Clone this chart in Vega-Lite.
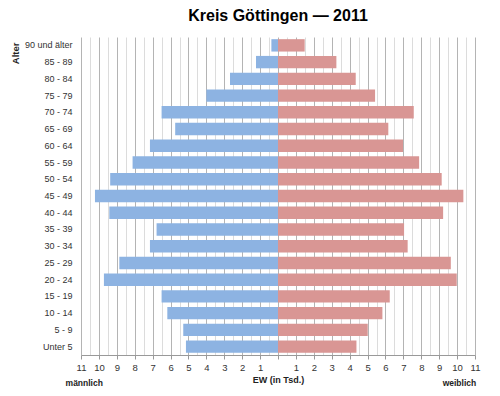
{
  "$schema": "https://vega.github.io/schema/vega-lite/v6.json",
  "width": 394,
  "height": 318,
  "autosize": {"type": "none"},
  "padding": {"left": 81, "top": 37, "right": 25, "bottom": 41},
  "background": "white",
  "title": {"text": "Kreis Göttingen — 2011", "font": "Liberation Sans", "fontSize": 16, "fontWeight": "bold", "color": "#000000", "anchor": "middle", "frame": "group", "offset": 13},
  "config": {
    "view": {"stroke": null},
    "axis": {"labelFont": "Liberation Sans", "titleFont": "Liberation Sans"},
    "text": {"font": "Liberation Sans"}
  },
  "datasets": {
    "pyramide": [
      {"alter": "90 und älter", "geschlecht": "männlich", "ew": -0.37},
      {"alter": "90 und älter", "geschlecht": "weiblich", "ew": 1.49},
      {"alter": "85 - 89", "geschlecht": "männlich", "ew": -1.23},
      {"alter": "85 - 89", "geschlecht": "weiblich", "ew": 3.26},
      {"alter": "80 - 84", "geschlecht": "männlich", "ew": -2.68},
      {"alter": "80 - 84", "geschlecht": "weiblich", "ew": 4.34},
      {"alter": "75 - 79", "geschlecht": "männlich", "ew": -4.0},
      {"alter": "75 - 79", "geschlecht": "weiblich", "ew": 5.42},
      {"alter": "70 - 74", "geschlecht": "männlich", "ew": -6.5},
      {"alter": "70 - 74", "geschlecht": "weiblich", "ew": 7.58},
      {"alter": "65 - 69", "geschlecht": "männlich", "ew": -5.74},
      {"alter": "65 - 69", "geschlecht": "weiblich", "ew": 6.16},
      {"alter": "60 - 64", "geschlecht": "männlich", "ew": -7.15},
      {"alter": "60 - 64", "geschlecht": "weiblich", "ew": 6.98},
      {"alter": "55 - 59", "geschlecht": "männlich", "ew": -8.12},
      {"alter": "55 - 59", "geschlecht": "weiblich", "ew": 7.88},
      {"alter": "50 - 54", "geschlecht": "männlich", "ew": -9.37},
      {"alter": "50 - 54", "geschlecht": "weiblich", "ew": 9.14},
      {"alter": "45 - 49", "geschlecht": "männlich", "ew": -10.22},
      {"alter": "45 - 49", "geschlecht": "weiblich", "ew": 10.35},
      {"alter": "40 - 44", "geschlecht": "männlich", "ew": -9.42},
      {"alter": "40 - 44", "geschlecht": "weiblich", "ew": 9.22},
      {"alter": "35 - 39", "geschlecht": "männlich", "ew": -6.78},
      {"alter": "35 - 39", "geschlecht": "weiblich", "ew": 7.04},
      {"alter": "30 - 34", "geschlecht": "männlich", "ew": -7.15},
      {"alter": "30 - 34", "geschlecht": "weiblich", "ew": 7.24},
      {"alter": "25 - 29", "geschlecht": "männlich", "ew": -8.86},
      {"alter": "25 - 29", "geschlecht": "weiblich", "ew": 9.65},
      {"alter": "20 - 24", "geschlecht": "männlich", "ew": -9.72},
      {"alter": "20 - 24", "geschlecht": "weiblich", "ew": 9.98},
      {"alter": "15 - 19", "geschlecht": "männlich", "ew": -6.5},
      {"alter": "15 - 19", "geschlecht": "weiblich", "ew": 6.24},
      {"alter": "10 - 14", "geschlecht": "männlich", "ew": -6.18},
      {"alter": "10 - 14", "geschlecht": "weiblich", "ew": 5.83},
      {"alter": "5 - 9", "geschlecht": "männlich", "ew": -5.29},
      {"alter": "5 - 9", "geschlecht": "weiblich", "ew": 5.01},
      {"alter": "Unter 5", "geschlecht": "männlich", "ew": -5.14},
      {"alter": "Unter 5", "geschlecht": "weiblich", "ew": 4.38}
    ],
    "seiten": [
      {"label": "männlich", "ew": -10.82},
      {"label": "weiblich", "ew": 10.13}
    ]
  },
  "layer": [
    {
      "data": {"name": "pyramide"},
      "mark": {"type": "bar"},
      "encoding": {
        "x": {
          "field": "ew",
          "type": "quantitative",
          "scale": {"domain": [-11, 11], "nice": false, "zero": false},
          "axis": {
            "values": [-11, -10.5, -10, -9.5, -9, -8.5, -8, -7.5, -7, -6.5, -6, -5.5, -5, -4.5, -4, -3.5, -3, -2.5, -2, -1.5, -1, -0.5, 0, 0.5, 1, 1.5, 2, 2.5, 3, 3.5, 4, 4.5, 5, 5.5, 6, 6.5, 7, 7.5, 8, 8.5, 9, 9.5, 10, 10.5, 11],
            "tickCount": 100,
            "title": "EW (in Tsd.)",
            "titleFontWeight": "bold",
            "titleFontSize": 9,
            "titleColor": "#222222",
            "titlePadding": 4,
            "labelExpr": "(datum.value % 1 === 0 && datum.value !== 0) ? '' + abs(datum.value) : ''",
            "labelFontSize": 9.5,
            "labelColor": "#333333",
            "labelFlush": false,
            "labelOverlap": false,
            "labelBound": false,
            "labelPadding": 3,
            "grid": true,
            "gridColor": {"condition": {"test": "datum.value % 1 === 0", "value": "#b4b4b4"}, "value": "#dcdcdc"},
            "tickColor": "#999999",
            "tickSize": 4,
            "tickOpacity": {"condition": {"test": "datum.value % 1 === 0", "value": 1}, "value": 0},
            "domainColor": "#999999"
          }
        },
        "y": {
          "field": "alter",
          "type": "nominal",
          "sort": ["90 und älter", "85 - 89", "80 - 84", "75 - 79", "70 - 74", "65 - 69", "60 - 64", "55 - 59", "50 - 54", "45 - 49", "40 - 44", "35 - 39", "30 - 34", "25 - 29", "20 - 24", "15 - 19", "10 - 14", "5 - 9", "Unter 5"],
          "scale": {"paddingInner": 0.26, "paddingOuter": 0.13},
          "axis": {
            "title": "Alter",
            "titleFontWeight": "bold",
            "titleFontSize": 9.5,
            "titleColor": "#222222",
            "titleAngle": -90,
            "titleX": -66,
            "titleY": 5,
            "titleAlign": "right",
            "titleBaseline": "middle",
            "labelFontSize": 9,
            "labelColor": "#333333",
            "labelPadding": 9,
            "ticks": false,
            "domain": false,
            "grid": false
          }
        },
        "color": {
          "field": "geschlecht",
          "type": "nominal",
          "scale": {"domain": ["männlich", "weiblich"], "range": ["#8db3e2", "#d99694"]},
          "legend": null
        }
      }
    },
    {
      "mark": {"type": "rule", "color": "#8a8a8a", "strokeWidth": 1},
      "encoding": {"x": {"datum": 0, "type": "quantitative"}}
    },
    {
      "data": {"name": "seiten"},
      "mark": {"type": "text", "fontWeight": "bold", "fontSize": 8.5, "color": "#222222", "baseline": "middle", "dy": 28},
      "encoding": {
        "x": {"field": "ew", "type": "quantitative"},
        "y": {"value": "height"},
        "text": {"field": "label"}
      }
    }
  ]
}
